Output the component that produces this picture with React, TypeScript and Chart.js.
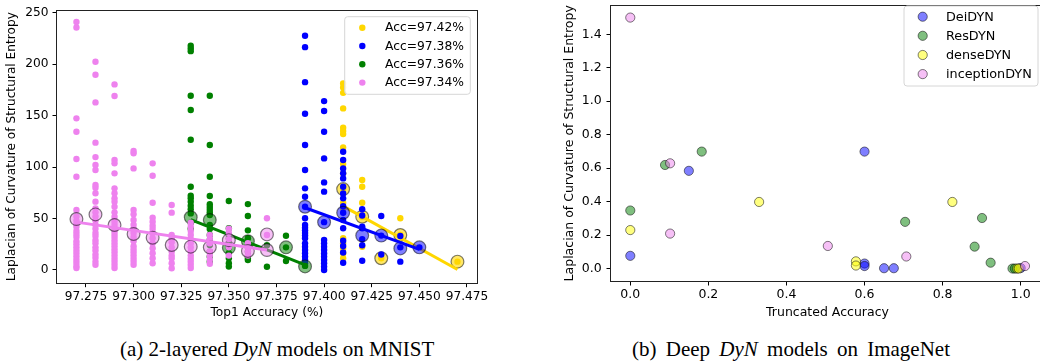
import React, { useEffect, useRef } from "react";
import { Chart, registerables } from "chart.js";

Chart.register(...registerables);

const FONT_FAMILY = "'DejaVu Sans', sans-serif";

// ================= (a) 2-layered DyN models on MNIST =================
const leftXTicks = [97.275, 97.3, 97.325, 97.35, 97.375, 97.4, 97.425, 97.45, 97.475];
const leftYTicks = [0, 50, 100, 150, 200, 250];
const leftLegendLabels = ["Acc=97.42%", "Acc=97.38%", "Acc=97.36%", "Acc=97.34%"];

// Acc=97.42% (gold)
const goldX = [97.41, 97.42, 97.43, 97.44, 97.47];
const goldVals = [
  [181.2, 177.3, 172.1, 157, 138.2, 135, 132, 119.1, 102.9, 93.9, 78.6, 65.3, 60, 30.8, 25.9, 21, 16.2, 11.4],
  [87.4, 80.9, 65.3, 51.8, 22.6],
  [11.4],
  [50.2, 34],
  [8.1],
];
const goldMeanX = [97.41, 97.42, 97.43, 97.44, 97.47];
const goldMeanY = [78.6, 51.8, 11.4, 34, 8.1];
const goldFitX = [97.41, 97.47];
const goldFitY = [62, 0.5];

// Acc=97.38% (blue)
const blueX = [97.39, 97.4, 97.41, 97.42, 97.43, 97.44, 97.45];
const blueVals = [
  [227.5, 216.5, 182.5, 151.8, 121.4, 97.1, 79.3, 71.2, 61.5, 50.2, 43.7, 41.1, 38.5, 35.9, 33.4, 30.8, 25.9, 22.7, 19.5, 16.2, 13, 9.7, 6.5],
  [164.1, 154.4, 134.3, 108.4, 85.1, 76.1, 46.5, 29.2, 25.9, 22.7, 19.5, 16, 13, 9.7, 6.5, 3.3, 0],
  [114.9, 106.8, 98.7, 93.9, 89, 80.9, 74.4, 69.6, 62, 55.6, 48.5, 40.5, 28.5, 23.3, 17, 7.1],
  [59, 53, 42, 40.5, 30, 24, 9],
  [52.5, 33.4, 15],
  [33, 22, 8.1],
  [22],
];
const blueMeanX = [97.39, 97.4, 97.41, 97.42, 97.43, 97.44, 97.45];
const blueMeanY = [61.5, 46.5, 55.6, 33.5, 33.4, 21, 22];
const blueFitX = [97.39, 97.45];
const blueFitY = [60.5, 20];

// Acc=97.36% (green)
const greenX = [97.33, 97.34, 97.35, 97.36, 97.37, 97.38, 97.39];
const greenVals = [
  [217.8, 215.2, 212.6, 169.3, 155.4, 126.6, 80.9, 72.2, 69.6, 66.4, 62.5, 59, 55, 46, 40],
  [169.3, 121.4, 90.6, 71.9, 63.8, 61.2, 58.6, 56, 53.4, 43.7, 39.8, 34, 29.2, 24.3, 17.8, 13, 8.1],
  [67, 40.5, 34, 30.8, 25.9, 21.7, 16.2, 11.4, 6.5, 3.3],
  [64, 52.4, 38.5, 30.8, 24.3, 22, 17.8, 13, 11, 9.7],
  [24, 3.2],
  [33.3, 22, 8.7],
  [4],
];
const greenMeanX = [97.33, 97.34, 97.35, 97.36, 97.38, 97.39];
const greenMeanY = [51.2, 48.6, 21.7, 28, 22, 3.5];
const greenFitX = [97.33, 97.39];
const greenFitY = [49, 5];

// Acc=97.34% (violet)
const violetX = [97.27, 97.28, 97.29, 97.3, 97.31, 97.32, 97.33, 97.34, 97.35, 97.36, 97.37];
const violetVals = [
  [241, 235.6, 147.3, 134.3, 107.8, 90.6, 58.3, 52, 48, 45, 42, 38, 35, 32, 28, 25, 22, 19, 16, 13, 10, 7, 4, 2],
  [202.3, 189.7, 162.8, 123.7, 109.7, 102, 97.1, 82.6, 80, 74.5, 66.4, 59.9, 56, 52, 48, 44, 40, 36, 33, 29, 26, 22, 19, 15, 12, 8, 5],
  [180.3, 169, 106.8, 103.6, 93.9, 79.3, 74.5, 69.6, 66.4, 61.5, 56, 51.8, 47, 44, 41, 38, 35, 32, 29, 26, 23, 20, 17, 14, 11, 8, 5, 2],
  [115.6, 113.3, 98.7, 58.3, 54.1, 48.6, 44, 40, 36, 32, 28, 23, 20, 17, 14, 11, 8, 5],
  [103.6, 91.6, 65.4, 50.8, 46.9, 43.1, 39.8, 35.6, 30.8, 25.9, 21.1, 16.2, 11.4, 6.5],
  [63.1, 55.7, 34, 30.8, 27, 22, 17.8, 14, 11.4, 6.5, 1.7],
  [46, 42, 38, 34, 30, 26, 22, 18, 14, 11, 8, 5, 2],
  [34, 30, 26, 18, 14, 10, 6],
  [40, 36, 30, 22, 14],
  [26, 22, 18, 14],
  [50.2, 34],
];
const violetMeanX = [97.27, 97.28, 97.29, 97.3, 97.31, 97.32, 97.33, 97.34, 97.35, 97.36, 97.37, 97.37];
const violetMeanY = [49.5, 54, 43.7, 35, 31.4, 24.3, 22.7, 22, 29, 18.5, 34.6, 19.4];
const violetFitX = [97.27, 97.37];
const violetFitY = [46.5, 19.5];

// ================= (b) Deep DyN models on ImageNet =================
const rightXTicks = [0, 0.2, 0.4, 0.6, 0.8, 1.0];
const rightYTicks = [0, 0.2, 0.4, 0.6, 0.8, 1.0, 1.2, 1.4];
const rightLegendLabels = ["DeiDYN", "ResDYN", "denseDYN", "inceptionDYN"];

const deiX = [0, 0.15, 0.6, 0.6, 0.6, 0.65, 0.675, 1.0];
const deiY = [0.076, 0.584, 0.699, 0.03, 0.015, 0.002, 0.002, 0.003];
const resX = [0, 0.089, 0.183, 0.704, 0.882, 0.901, 0.923, 0.979, 0.985];
const resY = [0.347, 0.619, 0.699, 0.279, 0.131, 0.302, 0.035, 0.0, 0.0];
const denseX = [0, 0.33, 0.578, 0.578, 0.825, 0.991, 0.995];
const denseY = [0.23, 0.398, 0.043, 0.018, 0.398, 0.0, 0.0];
const inceptionX = [0, 0.102, 0.102, 0.506, 0.707, 1.011];
const inceptionY = [1.5, 0.629, 0.209, 0.135, 0.072, 0.015];

// ---------------- helpers ----------------
const cols = (xs: number[], vals: number[][]) =>
  xs.flatMap((x, i) => vals[i].map((y) => ({ x, y })));
const pairs = (xs: number[], ys: number[]) => xs.map((x, i) => ({ x, y: ys[i] }));

function framePlugin(color: string) {
  return {
    id: "frame",
    afterDatasetsDraw(chart: any) {
      const { left, top, right, bottom } = chart.chartArea;
      const ctx = chart.ctx;
      ctx.save();
      ctx.strokeStyle = color;
      ctx.lineWidth = 1;
      ctx.strokeRect(Math.round(left) - 0.5, Math.round(top) - 0.5, Math.round(right) - Math.round(left) + 1, Math.round(bottom) - Math.round(top) + 1);
      ctx.restore();
    },
  };
}

function yTitlePlugin(text: string, x: number, size: number) {
  return {
    id: "yTitle",
    afterDraw(chart: any) {
      const { top, bottom } = chart.chartArea;
      const ctx = chart.ctx;
      ctx.save();
      ctx.translate(x, (top + bottom) / 2);
      ctx.rotate(-Math.PI / 2);
      ctx.font = `${size}px ${FONT_FAMILY}`;
      ctx.fillStyle = "#000";
      ctx.textAlign = "center";
      ctx.textBaseline = "middle";
      ctx.fillText(text, 0, 0);
      ctx.restore();
    },
  };
}

function legendPlugin(spec: {
  x: number; y: number; w: number; h: number; markerX: number; textX: number; rows: number[];
  labels: string[]; fills: string[]; stroke: string | null; radius: number; size: number;
}) {
  return {
    id: "boxLegend",
    afterDraw(chart: any) {
      const ctx = chart.ctx;
      ctx.save();
      ctx.beginPath();
      const r = 3;
      const { x, y, w, h } = spec;
      ctx.moveTo(x + r, y);
      ctx.arcTo(x + w, y, x + w, y + h, r);
      ctx.arcTo(x + w, y + h, x, y + h, r);
      ctx.arcTo(x, y + h, x, y, r);
      ctx.arcTo(x, y, x + w, y, r);
      ctx.closePath();
      ctx.fillStyle = "rgba(255,255,255,0.8)";
      ctx.fill();
      ctx.strokeStyle = "#d6d6d6";
      ctx.lineWidth = 1;
      ctx.stroke();
      ctx.font = `${spec.size}px ${FONT_FAMILY}`;
      ctx.textBaseline = "middle";
      ctx.textAlign = "left";
      spec.labels.forEach((lab, i) => {
        const cy = spec.rows[i];
        ctx.beginPath();
        ctx.arc(spec.markerX, cy, spec.radius, 0, Math.PI * 2);
        ctx.fillStyle = spec.fills[i];
        ctx.fill();
        if (spec.stroke) {
          ctx.strokeStyle = spec.stroke;
          ctx.lineWidth = 1;
          ctx.stroke();
        }
        ctx.fillStyle = "#000";
        ctx.fillText(lab, spec.textX, cy + 0.5);
      });
      ctx.restore();
    },
  };
}

const GOLD = "#FFD700";
const BLUE = "#0000FF";
const GREEN = "#008000";
const VIOLET = "#EE82EE";
const MEAN_EDGE = "rgba(0,0,0,0.5)";

function dots(data: any[], color: string, order: number) {
  return { type: "scatter", data, order, backgroundColor: color, pointRadius: 3.2, pointBorderWidth: 0, pointBorderColor: color, pointBackgroundColor: color };
}
function means(data: any[], fill: string, order: number) {
  return { type: "scatter", data, order, pointRadius: 6.4, pointBorderWidth: 1.2, pointBorderColor: MEAN_EDGE, pointBackgroundColor: fill };
}
function fit(data: any[], color: string, order: number) {
  return { type: "line", data, order, showLine: true, borderColor: color, borderWidth: 3, pointRadius: 0, fill: false, tension: 0 };
}

function makeScale(opts: {
  min: number; max: number; ticks: number[]; digits: number; size: number; fixed: number; horizontal: boolean; pad: number; title?: string; titlePad?: number;
}) {
  const s: any = {
    type: "linear",
    min: opts.min,
    max: opts.max,
    afterBuildTicks: (axis: any) => {
      axis.ticks = opts.ticks.map((v) => ({ value: v }));
    },
    afterFit: (axis: any) => {
      if (opts.horizontal) {
        axis.height = opts.fixed;
        axis.paddingLeft = 0;
        axis.paddingRight = 0;
      } else {
        axis.width = opts.fixed;
        axis.paddingTop = 0;
        axis.paddingBottom = 0;
      }
    },
    ticks: {
      autoSkip: false,
      maxRotation: 0,
      minRotation: 0,
      color: "#000",
      padding: opts.pad,
      font: { family: FONT_FAMILY, size: opts.size },
      callback: (v: any) => Number(v).toFixed(opts.digits),
    },
    grid: { display: true, drawOnChartArea: false, drawTicks: true, tickLength: 4.5, tickColor: "#000", tickWidth: 1 },
    border: { display: false },
  };
  if (opts.title) {
    s.title = {
      display: true,
      text: opts.title,
      color: "#000",
      font: { family: FONT_FAMILY, size: opts.size },
      padding: { top: 0, bottom: opts.titlePad },
    };
  }
  return s;
}

export default function App() {
  const leftRef = useRef<HTMLCanvasElement | null>(null);
  const rightRef = useRef<HTMLCanvasElement | null>(null);

  useEffect(() => {
    const size = 12.2;
    const chart = new Chart(leftRef.current as HTMLCanvasElement, {
      type: "scatter",
      data: {
        datasets: [
          fit(pairs(violetFitX, violetFitY), VIOLET, 0),
          means(pairs(violetMeanX, violetMeanY), "rgba(238,130,238,0.5)", 1),
          dots(cols(violetX, violetVals), VIOLET, 2),
          fit(pairs(greenFitX, greenFitY), GREEN, 3),
          means(pairs(greenMeanX, greenMeanY), "rgba(0,128,0,0.5)", 4),
          dots(cols(greenX, greenVals), GREEN, 5),
          fit(pairs(blueFitX, blueFitY), BLUE, 6),
          means(pairs(blueMeanX, blueMeanY), "rgba(0,0,255,0.5)", 7),
          dots(cols(blueX, blueVals), BLUE, 8),
          fit(pairs(goldFitX, goldFitY), GOLD, 9),
          means(pairs(goldMeanX, goldMeanY), "rgba(255,215,0,0.6)", 10),
          dots(cols(goldX, goldVals), GOLD, 11),
        ] as any,
      },
      options: {
        responsive: false,
        animation: false,
        events: [],
        layout: { padding: { left: 0, top: 10.7, right: 43.3, bottom: 0 } },
        plugins: { legend: { display: false }, tooltip: { enabled: false } },
        scales: {
          x: makeScale({ min: 97.2598, max: 97.4801, ticks: leftXTicks, digits: 3, size, fixed: 47.3, horizontal: true, pad: 2, title: "Top1 Accuracy (%)", titlePad: 9.6 }),
          y: makeScale({ min: -12.34, max: 251.9, ticks: leftYTicks, digits: 0, size, fixed: 57, horizontal: false, pad: 4 }),
        },
      } as any,
      plugins: [
        framePlugin("#222"),
        yTitlePlugin("Laplacian of Curvature of Structural Entropy", 12.3, size),
        legendPlugin({
          x: 344.7, y: 16.7, w: 125.6, h: 77.6, markerX: 362.3, textX: 385, rows: [27.7, 46, 64.3, 82.6],
          labels: leftLegendLabels, fills: [GOLD, BLUE, GREEN, VIOLET], stroke: null, radius: 3.2, size: 12.3,
        }),
      ],
    });
    return () => chart.destroy();
  }, []);

  useEffect(() => {
    const size = 12.5;
    const edge = "rgba(0,0,0,0.5)";
    const pt = (data: any[], fill: string, order: number) => ({
      type: "scatter", data, order, pointRadius: 4.6, pointBorderWidth: 1, pointBorderColor: edge, pointBackgroundColor: fill,
    });
    const chart = new Chart(rightRef.current as HTMLCanvasElement, {
      type: "scatter",
      data: {
        datasets: [
          pt(pairs(deiX, deiY), "rgba(0,0,255,0.5)", 3),
          pt(pairs(resX, resY), "rgba(0,128,0,0.5)", 2),
          pt(pairs(denseX, denseY), "rgba(255,255,0,0.5)", 1),
          pt(pairs(inceptionX, inceptionY), "rgba(238,130,238,0.5)", 0),
        ] as any,
      },
      options: {
        responsive: false,
        animation: false,
        events: [],
        layout: { padding: { left: 0, top: 0, right: 6, bottom: 0 } },
        plugins: { legend: { display: false }, tooltip: { enabled: false } },
        scales: {
          x: makeScale({ min: -0.0494, max: 1.0597, ticks: rightXTicks, digits: 1, size, fixed: 49, horizontal: true, pad: 2, title: "Truncated Accuracy", titlePad: 9.6 }),
          y: makeScale({ min: -0.0744, max: 1.5716, ticks: rightYTicks, digits: 1, size, fixed: 91, horizontal: false, pad: 4.8 }),
        },
      } as any,
      plugins: [
        framePlugin("#222"),
        yTitlePlugin("Laplacian of Curvature of Structural Entropy", 49.3, size),
        legendPlugin({
          x: 384, y: 6, w: 134, h: 80, markerX: 402.7, textX: 426, rows: [16.7, 35.8, 55, 74.1],
          labels: rightLegendLabels,
          fills: ["rgba(0,0,255,0.5)", "rgba(0,128,0,0.5)", "rgba(255,255,0,0.5)", "rgba(238,130,238,0.5)"],
          stroke: edge, radius: 4.6, size: 12.8,
        }),
      ],
    });
    return () => chart.destroy();
  }, []);

  const captionStyle: React.CSSProperties = {
    position: "absolute",
    top: 339,
    fontFamily: "'Liberation Serif', 'Times New Roman', serif",
    fontSize: 21,
    lineHeight: "21px",
    whiteSpace: "nowrap",
    color: "#000",
  };

  return (
    <div style={{ position: "absolute", left: 0, top: 0, width: 1040, height: 364, overflow: "hidden", background: "#fff" }}>
      <canvas ref={leftRef} width={520} height={330} style={{ position: "absolute", left: 0, top: 0 }} />
      <canvas ref={rightRef} width={530} height={330} style={{ position: "absolute", left: 520, top: 0 }} />
      <div style={{ ...captionStyle, left: 120 }}>
        (a) 2-layered <i>DyN</i> models on MNIST
      </div>
      <div style={{ ...captionStyle, left: 632, wordSpacing: 4 }}>
        (b) Deep <i>DyN</i> models on ImageNet
      </div>
    </div>
  );
}
